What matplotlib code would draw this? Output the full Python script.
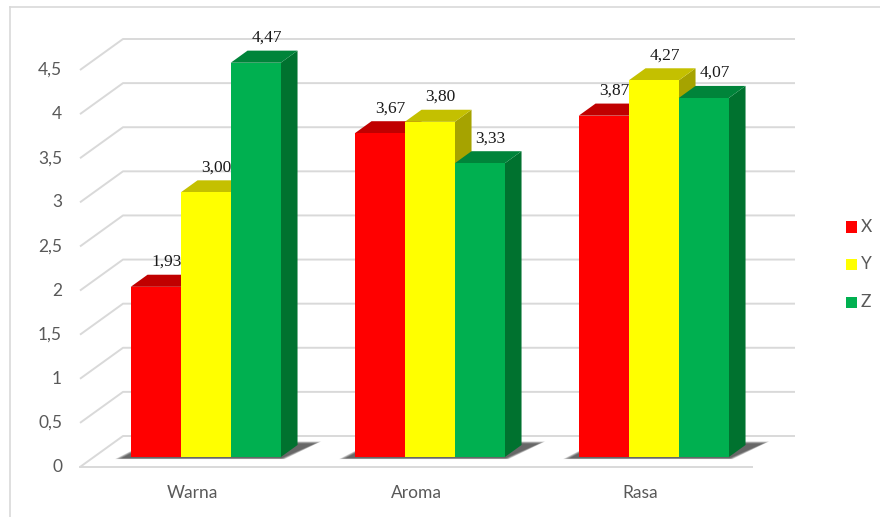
import matplotlib
matplotlib.use("Agg")
import matplotlib.pyplot as plt
from matplotlib.patches import Polygon, Rectangle
from matplotlib.lines import Line2D

categories = ["Warna", "Aroma", "Rasa"]
series_names = ["X", "Y", "Z"]
values_X = [1.93, 3.67, 3.87]
values_Y = [3.00, 3.80, 4.27]
values_Z = [4.47, 3.33, 4.07]
yticks = [0, 0.5, 1, 1.5, 2, 2.5, 3, 3.5, 4, 4.5]
ytick_labels = ["0", "0,5", "1", "1,5", "2", "2,5", "3", "3,5", "4", "4,5"]

front_colors = ["#FF0000", "#FFFF00", "#00B050"]
top_colors = ["#C00000", "#C4C000", "#00843A"]
side_colors = ["#A00000", "#A6A300", "#00722F"]

W_PX, H_PX = 880, 517
fig = plt.figure(figsize=(W_PX / 100, H_PX / 100), dpi=100)
fig.patch.set_facecolor("white")

ax = fig.add_axes([80 / W_PX, (H_PX - 467) / H_PX, (752 - 80) / W_PX, (467 - 70) / H_PX])
ax.set_xlim(-0.5, 2.5)
ax.set_ylim(0, 4.5)
ax.axis("off")

px_x = 3.0 / (752 - 80)
px_y = 4.5 / (467 - 70)

DX = 43 * px_x
DY = 31 * px_y
F0, F1 = 0.32, 0.71
BW = 50 * px_x
ddx = (F1 - F0) * DX
ddy = (F1 - F0) * DY

grid_c = "#D9D9D9"
for v in yticks:
    ax.plot([-0.5, -0.5 + DX, 2.5 + DX], [v, v + DY, v + DY], color=grid_c, lw=1.4,
            clip_on=False, zorder=1, solid_capstyle="butt")
ax.plot([-0.5, 2.5], [0, 0], color=grid_c, lw=1.4, clip_on=False, zorder=1)

tick_font = dict(family=["Lato", "DejaVu Sans"], size=12.5, color="#595959")
for v, lab in zip(yticks, ytick_labels):
    ax.text(-0.5 - 18 * px_x, v, lab, ha="right", va="center", **tick_font)
for i, c in enumerate(categories):
    ax.text(i, -26 * px_y, c, ha="center", va="center", **tick_font)

all_vals = [values_X, values_Y, values_Z]
yb = F0 * DY

# soft shadows under each cluster
for i in range(len(categories)):
    xl0 = i + F0 * DX - 1.5 * BW
    xr0 = xl0 + 3 * BW
    for k in range(12):
        e = (12 - k) * 1.1
        poly = [(xl0 - (8 + e * 0.6) * px_x, yb - (1 + e * 0.08) * px_y),
                (xr0 + (e * 0.3) * px_x, yb - (1 + e * 0.08) * px_y),
                (xr0 + ddx + (16 + e * 0.6) * px_x, yb + ddy + (1 + e * 0.2) * px_y),
                (xl0 + ddx + 2 * px_x, yb + ddy + (1 + e * 0.2) * px_y)]
        ax.add_patch(Polygon(poly, closed=True, facecolor="#202020", edgecolor="none",
                             alpha=0.085, zorder=2, clip_on=False))

for i in range(len(categories)):
    for j, vals in enumerate(all_vals):
        v = vals[i]
        xl = i + F0 * DX - 1.5 * BW + j * BW
        xr = xl + BW
        z = 3 + j
        front = [(xl, yb), (xr, yb), (xr, yb + v), (xl, yb + v)]
        top = [(xl, yb + v), (xr, yb + v), (xr + ddx, yb + v + ddy), (xl + ddx, yb + v + ddy)]
        side = [(xr, yb), (xr + ddx, yb + ddy), (xr + ddx, yb + v + ddy), (xr, yb + v)]
        ax.add_patch(Polygon(side, closed=True, facecolor=side_colors[j], edgecolor="none", zorder=z, clip_on=False))
        ax.add_patch(Polygon(top, closed=True, facecolor=top_colors[j], edgecolor="none", zorder=z, clip_on=False))
        ax.add_patch(Polygon(front, closed=True, facecolor=front_colors[j], edgecolor="none", zorder=z, clip_on=False))
        lab = f"{v:.2f}".replace(".", ",")
        ax.text(xl + BW / 2 + ddx - 6 * px_x, yb + v + ddy + 13 * px_y, lab,
                ha="center", va="center", family=["Liberation Serif", "DejaVu Serif"],
                size=12.5, color="#1A1A1A", zorder=10)

# legend (manual, in figure pixel coordinates)
leg_y = [227, 264, 302]
for name, col, yy in zip(series_names, front_colors, leg_y):
    fig.add_artist(Rectangle((846 / W_PX, 1 - (yy + 5.5) / H_PX), 11 / W_PX, 11 / H_PX,
                             transform=fig.transFigure, facecolor=col, edgecolor="none"))
    fig.text(861 / W_PX, 1 - yy / H_PX, name, ha="left", va="center",
             family=["Lato", "DejaVu Sans"], size=12.5, color="#595959")

fig.add_artist(Line2D([10 / W_PX, 10 / W_PX], [0, 1 - 7 / H_PX], transform=fig.transFigure, color=grid_c, lw=1.2))
fig.add_artist(Line2D([10 / W_PX, 1], [1 - 7 / H_PX, 1 - 7 / H_PX], transform=fig.transFigure, color=grid_c, lw=1.2))

fig.savefig("out.png", dpi=100, facecolor="white")
